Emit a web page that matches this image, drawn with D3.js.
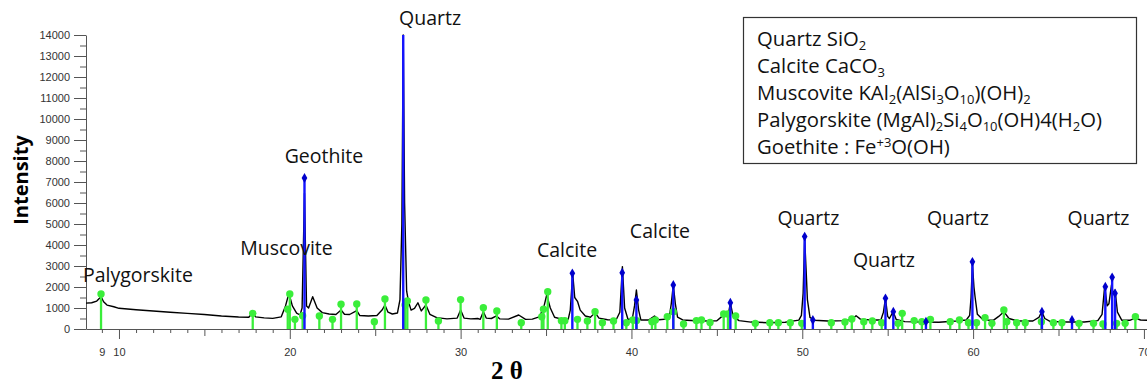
<!DOCTYPE html>
<html><head><meta charset="utf-8">
<script src="https://cdn.jsdelivr.net/npm/d3@7"></script>
<style>body{margin:0;background:#fff} svg{display:block}</style>
</head><body>
<svg id="c" width="1147" height="385"></svg>
<script>
// Measured diffraction profile: [2θ, intensity]
const profile = [[8.07,1230],[8.4,1250],[8.7,1330],[8.95,1540],[9.1,1300],[9.3,1140],[9.7,1060],[10,985],[11,920],[12,857],[13,800],[14,746],[15,690],[16,620],[17,570],[17.6,556],[17.83,778],[18.0,580],[18.5,530],[19.0,508],[19.5,580],[19.75,1100],[19.95,1700],[20.15,1100],[20.4,760],[20.6,667],[20.72,1000],[20.86,6460],[20.98,1100],[21.1,1000],[21.34,1540],[21.6,1000],[21.9,780],[22.3,714],[22.7,690],[23.0,905],[23.2,700],[23.5,690],[23.92,880],[24.1,640],[24.6,620],[25.1,640],[25.4,900],[25.57,1143],[25.75,800],[26.0,714],[26.3,760],[26.45,1400],[26.56,5000],[26.64,14000],[26.72,6000],[26.84,1800],[26.95,1300],[27.1,900],[27.3,980],[27.5,1250],[27.7,860],[27.97,1143],[28.2,700],[28.6,540],[29.2,480],[29.8,520],[30.0,905],[30.2,520],[30.6,480],[31.0,500],[31.15,460],[31.33,825],[31.5,520],[31.8,500],[32.1,620],[32.3,480],[32.8,470],[33.4,667],[33.8,460],[34.2,470],[34.6,580],[34.85,985],[35.04,1620],[35.25,1000],[35.5,560],[35.9,470],[36.3,470],[36.42,900],[36.56,2650],[36.68,1500],[36.85,1300],[37.0,900],[37.3,620],[37.6,560],[37.87,780],[38.1,520],[38.6,440],[39.1,430],[39.32,800],[39.47,2970],[39.6,1000],[39.8,450],[40.05,480],[40.18,1100],[40.29,1857],[40.42,900],[40.55,430],[41.0,430],[41.35,620],[41.6,440],[42.2,480],[42.33,1200],[42.45,2095],[42.57,1200],[42.7,560],[43.0,430],[44.0,380],[45.0,390],[45.3,600],[45.5,746],[45.65,600],[45.79,1250],[45.95,600],[46.3,400],[47.0,330],[48.0,300],[49.0,320],[49.8,420],[49.95,650],[50.05,1700],[50.14,4300],[50.22,2900],[50.3,1400],[50.45,550],[50.7,420],[51.5,380],[52.5,400],[52.9,470],[53.15,634],[53.4,470],[54.0,430],[54.6,430],[54.75,800],[54.87,1460],[55.0,600],[55.1,500],[55.32,825],[55.5,450],[56.0,350],[57.0,330],[58.0,320],[59.0,380],[59.6,430],[59.8,650],[59.88,1500],[59.96,3100],[60.05,2000],[60.12,1500],[60.25,700],[60.6,430],[61.2,420],[61.5,600],[61.8,825],[62.1,500],[62.6,380],[63.5,380],[63.85,550],[64.02,825],[64.2,500],[64.5,360],[65.5,330],[66.5,330],[67.3,400],[67.55,700],[67.7,2015],[67.85,1100],[67.95,1200],[68.1,2095],[68.2,1700],[68.31,1857],[68.45,800],[68.7,420],[69.2,420],[69.5,520],[69.8,430],[70.18,420]];

// Reference lines (green): [2θ, intensity]
const greenSticks = [[8.95,1667],[17.83,746],[19.88,938],[20.0,1667],[20.3,460],[20.75,634],[21.73,620],[22.5,460],[23.0,1176],[23.92,1190],[24.95,350],[25.57,1430],[26.75,1143],[26.88,1333],[27.97,1380],[28.7,380],[30.0,1400],[31.33,1015],[32.12,857],[33.55,300],[34.75,586],[34.85,938],[35.1,1776],[35.9,395],[36.1,395],[36.84,460],[37.42,380],[37.87,825],[38.3,300],[38.95,380],[39.7,300],[40.08,430],[40.3,400],[41.2,350],[41.4,430],[42.1,586],[42.45,825],[43.05,240],[43.8,400],[44.1,430],[44.6,310],[45.4,714],[45.65,714],[46.1,620],[47.25,270],[48.1,300],[48.6,300],[49.3,300],[49.97,270],[51.7,300],[52.5,330],[52.9,475],[53.6,350],[54.1,380],[54.65,300],[55.6,270],[55.85,746],[56.55,400],[57.0,350],[57.5,460],[58.66,350],[59.2,430],[59.73,300],[60.2,300],[60.7,540],[61.1,270],[61.8,905],[61.97,350],[62.55,300],[63.05,300],[64.0,350],[64.7,300],[65.2,300],[66.2,270],[67.05,270],[67.6,240],[68.4,270],[68.9,270],[69.5,586]];

// Quartz reference lines (blue): [2θ, intensity]
const blueSticks = [[20.86,7190],[26.64,14000],[36.54,2650],[39.46,2680],[40.29,1380],[42.45,2095],[45.79,1250],[50.14,4400],[50.62,430],[54.87,1460],[55.33,825],[57.24,350],[59.96,3200],[64.03,825],[65.79,430],[67.74,2015],[68.14,2460],[68.31,1700]];

const xTickLabels = [9,10,20,30,40,50,60,70];
const yTickLabels = [0,1000,2000,3000,4000,5000,6000,7000,8000,9000,10000,11000,12000,13000,14000];

// Phase annotations: [text, 2θ, intensity]
const peakLabels = [["Quartz",28.21,14476],["Geothite",22.0,7890],["Muscovite",19.81,3524],["Palygorskite",11.11,2252],["Calcite",36.23,3443],["Calcite",41.67,4319],["Quartz",50.36,4952],["Quartz",54.78,2938],["Quartz",59.11,4952],["Quartz",67.34,4952]];

const legendLines = ["Quartz SiO_{2}","Calcite CaCO_{3}","Muscovite KAl_{2}(AlSi_{3}O_{10})(OH)_{2}","Palygorskite (MgAl)_{2}Si_{4}O_{10}(OH)4(H_{2}O)","Goethite : Fe^{+3}O(OH)"];

const svg = d3.select("#c");
const x = d3.scaleLinear().domain([8.07,70.18]).range([86,1147]);
const y = d3.scaleLinear().domain([0,14000]).range([329,35]);
const axisColor = "#555";

// X axis
const gx = svg.append("g").attr("transform","translate(0,"+y(0)+")")
  .call(d3.axisBottom(x).tickValues(d3.range(9,71)).tickSizeOuter(0)
    .tickFormat(d => xTickLabels.includes(d) ? d : ""));
gx.select(".domain").attr("stroke",axisColor);
gx.selectAll(".tick line").attr("stroke",axisColor).attr("y2", d => d%10===0 ? 10 : (d%5===0 ? 7 : 4));
gx.selectAll(".tick text").attr("y",19).attr("fill","#333").style("font-family","Liberation Sans, Arial").style("font-size","11px");

// Y axis
const gy = svg.append("g").attr("transform","translate("+x(8.07)+",0)")
  .call(d3.axisLeft(y).tickValues(d3.range(0,14001,500)).tickSizeOuter(0)
    .tickFormat(d => yTickLabels.includes(d) ? d : ""));
gy.select(".domain").attr("stroke",axisColor);
gy.selectAll(".tick line").attr("stroke",axisColor).attr("x2", d => d%1000===0 ? -12 : -6);
gy.selectAll(".tick text").attr("x",-16).attr("fill","#333").style("font-family","Liberation Sans, Arial").style("font-size","11px");

// Profile
svg.append("path").datum(profile)
  .attr("d", d3.line().x(d=>x(d[0])).y(d=>y(d[1])))
  .attr("fill","none").attr("stroke","#000").attr("stroke-width",1.4).attr("stroke-linejoin","round");

// Green sticks
const green = "#3aee3a";
const gg = svg.append("g");
gg.selectAll("line").data(greenSticks).join("line")
  .attr("x1",d=>x(d[0])).attr("x2",d=>x(d[0])).attr("y1",y(0)).attr("y2",d=>y(d[1]))
  .attr("stroke",green).attr("stroke-width",2.3);
gg.selectAll("circle").data(greenSticks).join("circle")
  .attr("cx",d=>x(d[0])).attr("cy",d=>y(d[1])).attr("r",3.7).attr("fill",green);

// Blue sticks
const blue = "#1414ff";
const gb = svg.append("g");
gb.selectAll("line").data(blueSticks).join("line")
  .attr("x1",d=>x(d[0])).attr("x2",d=>x(d[0])).attr("y1",y(0)).attr("y2",d=>y(d[1]))
  .attr("stroke",blue).attr("stroke-width",2.4);
gb.selectAll("path").data(blueSticks.filter(d=>d[1]<14000)).join("path")
  .attr("transform",d=>"translate("+x(d[0])+","+y(d[1])+")")
  .attr("d", d3.symbol(d3.symbolDiamond).size(28)).attr("fill","#0000cc");

// Peak labels
const labelFont = "Open Sans, sans-serif";
svg.append("g").selectAll("text").data(peakLabels).join("text")
  .attr("x",d=>x(d[1])).attr("y",d=>y(d[2])).attr("text-anchor","middle")
  .style("font-family",labelFont).style("font-size","19.5px").attr("fill","#111")
  .text(d=>d[0]);

// Legend
svg.append("rect").attr("x",743.5).attr("y",17.5).attr("width",393).attr("height",146)
  .attr("fill","#fff").attr("stroke","#333").attr("stroke-width",1.2);
const lg = svg.append("g");
legendLines.forEach((line,i) => {
  const t = lg.append("text").attr("x",757).attr("y",45.5 + i*27.2)
    .style("font-family",labelFont).style("font-size","20.3px").attr("fill","#111");
  const parts = line.split(/(_\{[^}]*\}|\^\{[^}]*\})/).filter(s=>s.length);
  let shift = 0;
  parts.forEach(p => {
    let target = 0, txt = p, size = null;
    if (p.startsWith("_{")) { target = 4; txt = p.slice(2,-1); size = "13px"; }
    else if (p.startsWith("^{")) { target = -7; txt = p.slice(2,-1); size = "13px"; }
    const ts = t.append("tspan").attr("dy", target - shift).text(txt);
    if (size) ts.style("font-size", size);
    shift = target;
  });
});

// Axis titles
svg.append("text").attr("transform","translate(28,180) rotate(-90)").attr("text-anchor","middle")
  .style("font-family","Open Sans, sans-serif").style("font-weight","bold").style("font-size","20px")
  .attr("fill","#000").text("Intensity");
svg.append("text").attr("x",507).attr("y",379).attr("text-anchor","middle")
  .style("font-family","Liberation Serif, serif").style("font-weight","bold").style("font-size","25px")
  .attr("fill","#000").text("2 θ");
</script>
</body></html>
